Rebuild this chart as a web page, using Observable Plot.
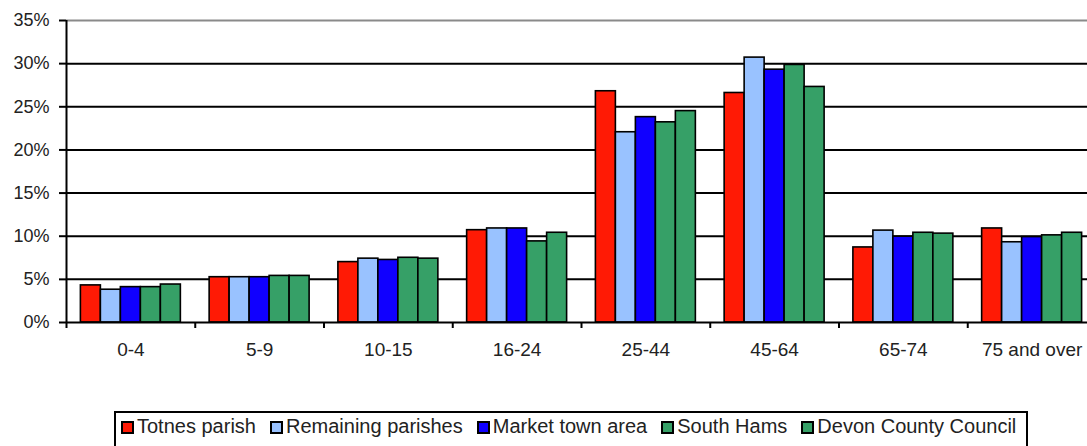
<!DOCTYPE html>
<html>
<head>
<meta charset="utf-8">
<script src="https://cdn.jsdelivr.net/npm/d3@7"></script>
<script src="https://cdn.jsdelivr.net/npm/@observablehq/plot@0.6"></script>
<style>
  html, body { margin: 0; padding: 0; background: #fff; overflow: hidden; }
  #wrap { position: relative; width: 1087px; height: 446px; }
  #legend {
    position: absolute; left: 114px; top: 411px; width: 914px; height: 40px;
    border: 2px solid #000; box-sizing: border-box;
    font-family: "Liberation Sans", Arial, sans-serif; font-size: 20px; line-height: 23px; color: #222;
    display: flex; align-items: flex-start; padding: 2px 0 0 5px; white-space: nowrap;
  }
  #legend .item { display: flex; align-items: center; margin-right: 14px; }
  #legend .sw { width: 9px; height: 9px; border: 2px solid #000; margin-right: 3px; margin-top: 2px; }
</style>
</head>
<body>
<div id="wrap">
  <div id="chart"></div>
  <div id="legend"></div>
</div>
<script>
const categories = ["0-4","5-9","10-15","16-24","25-44","45-64","65-74","75 and over"];
const series = ["Totnes parish","Remaining parishes","Market town area","South Hams","Devon County Council"];
const totnes    = [4.3, 5.25, 7.0, 10.7, 26.8, 26.6, 8.7, 10.9];
const remaining = [3.8, 5.25, 7.4, 10.9, 22.05, 30.7, 10.65, 9.3];
const market    = [4.1, 5.25, 7.25, 10.9, 23.8, 29.3, 9.95, 9.9];
const southHams = [4.1, 5.4, 7.5, 9.4, 23.2, 29.85, 10.4, 10.1];
const devon     = [4.4, 5.4, 7.4, 10.4, 24.5, 27.3, 10.3, 10.4];
const yTicks = [0, 5, 10, 15, 20, 25, 30, 35];
const colors = ["#ff1a05", "#99c2ff", "#1000ff", "#36a067", "#36a067"];

const seriesValues = [totnes, remaining, market, southHams, devon];
const data = [];
categories.forEach((c, i) => {
  series.forEach((s, j) => {
    data.push({category: c, ci: i, series: s, si: j, value: seriesValues[j][i]});
  });
});

const barFrac = 0.1553; // bar width as fraction of a category band
const x1 = d => d.ci + 0.5 + (d.si - 2.5) * barFrac;
const x2 = d => d.ci + 0.5 + (d.si - 1.5) * barFrac;

const chart = Plot.plot({
  width: 1087,
  height: 400,
  marginLeft: 66,
  marginRight: 0,
  marginTop: 20,
  marginBottom: 78,
  style: {fontFamily: "'Liberation Sans', Arial, sans-serif", fontSize: "18px", color: "#222", background: "#fff"},
  x: {domain: [0, categories.length], range: [66, 1096], label: null},
  y: {domain: [0, 35], range: [322, 20], label: null},
  color: {domain: series, range: colors},
  marks: [
    Plot.ruleY(yTicks.filter(t => t > 0 && t < 35), {stroke: "#000", strokeWidth: 2}),
    Plot.ruleY([35], {stroke: "#8a8a8a", strokeWidth: 2}),
    Plot.rectY(data, {x1, x2, y: "value", fill: "series", stroke: "#000", strokeWidth: 1.6}),
    Plot.ruleY([0], {stroke: "#000", strokeWidth: 2}),
    Plot.ruleX([0], {y1: 0, y2: 35, stroke: "#000", strokeWidth: 2}),
    Plot.axisY({ticks: yTicks, tickFormat: d => d + "%", tickSize: 7, tickPadding: 10, strokeWidth: 2, stroke: "#000", fill: "#222", fontSize: 18, label: null}),
    Plot.axisX({ticks: d3.range(0, categories.length + 1), tickFormat: () => "", tickSize: 6, strokeWidth: 2, stroke: "#000", label: null}),
    Plot.axisX({ticks: categories.map((c, i) => i + 0.5), tickFormat: d => categories[Math.floor(d)], tickSize: 0, tickPadding: 20, fill: "#222", fontSize: 19, label: null})
  ]
});
document.getElementById("chart").appendChild(chart);

const legend = document.getElementById("legend");
series.forEach((s, j) => {
  const item = document.createElement("div");
  item.className = "item";
  const sw = document.createElement("span");
  sw.className = "sw";
  sw.style.background = colors[j];
  const t = document.createElement("span");
  t.textContent = s;
  item.appendChild(sw);
  item.appendChild(t);
  legend.appendChild(item);
});
</script>
</body>
</html>
